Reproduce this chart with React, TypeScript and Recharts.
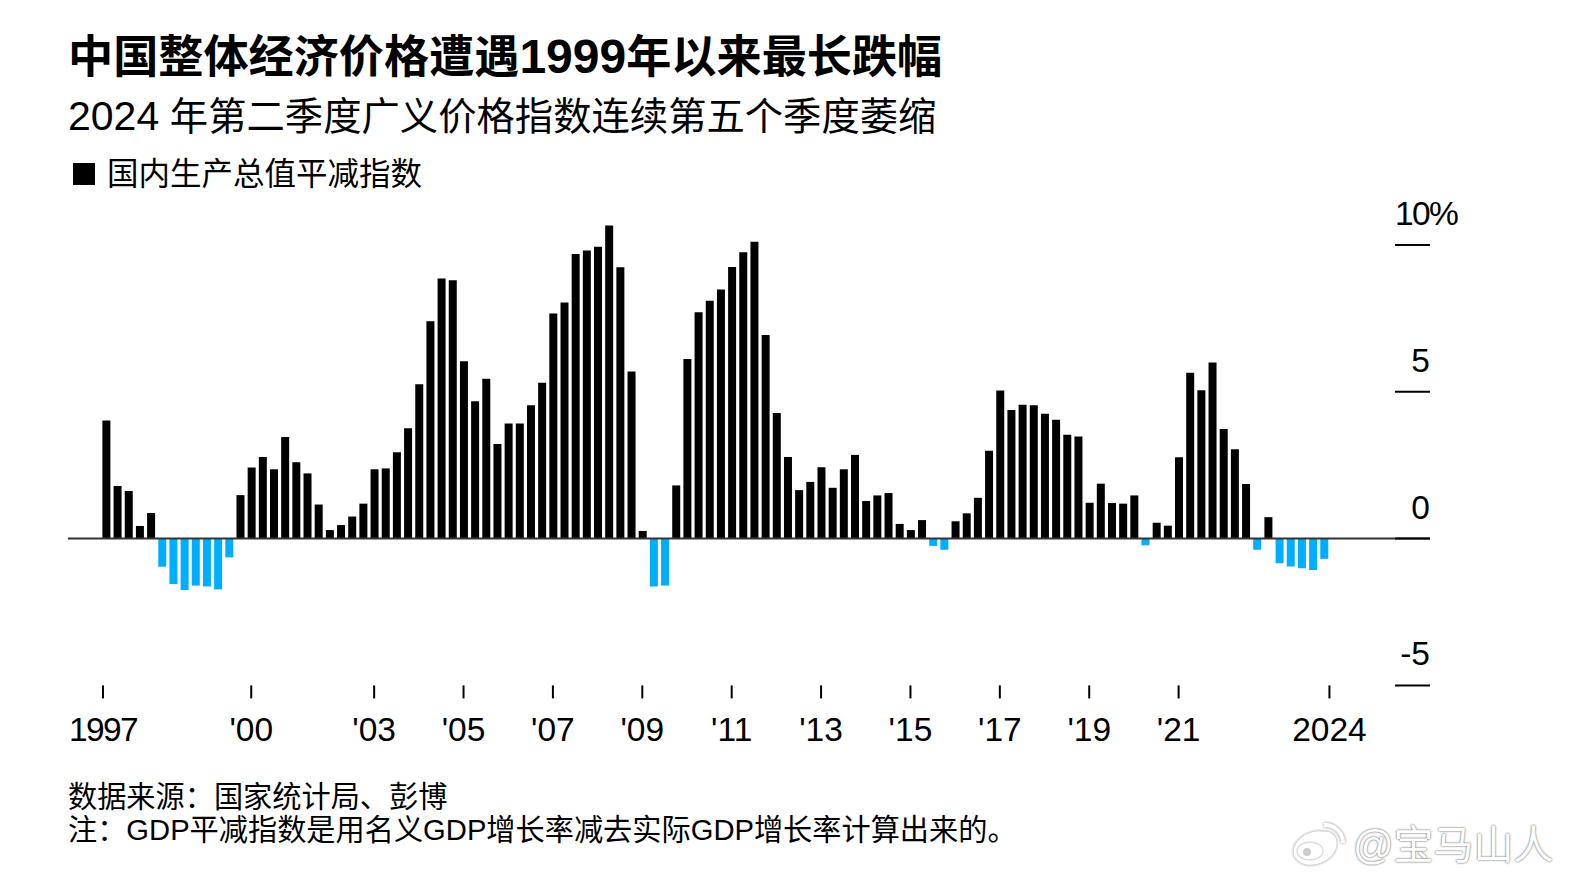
import { BarChart, Bar, Cell, XAxis, YAxis, ReferenceLine } from "recharts";

const TITLE = ["中国整体经济价格遭遇", "1999", "年以来最长跌幅"];
const SUBTITLE = ["", "2024", " 年第二季度广义价格指数连续第五个季度萎缩"];
const LEGEND = "国内生产总值平减指数";
const SOURCE = "数据来源\uff1a国家统计局、彭博";
const NOTE = "注\uff1aGDP平减指数是用名义GDP增长率减去实际GDP增长率计算出来的。";

// quarterly GDP deflator
const values = [
  4.02, 1.79, 1.62, 0.43, 0.87, -0.96, -1.55, -1.75, -1.6, -1.63, -1.73, -0.64, 1.48, 2.42, 2.78, 2.36,
  3.46, 2.6, 2.22, 1.16, 0.29, 0.46, 0.75, 1.19, 2.36, 2.39, 2.94, 3.76, 5.26, 7.4, 8.86, 8.8,
  6.04, 4.68, 5.44, 3.22, 3.92, 3.92, 4.54, 5.31, 7.67, 8.04, 9.69, 9.81, 9.94, 10.66, 9.24, 5.69,
  0.26, -1.63, -1.6, 1.81, 6.12, 7.71, 8.1, 8.48, 9.25, 9.75, 10.11, 6.93, 4.28, 2.78, 1.65, 1.93,
  2.43, 1.73, 2.36, 2.85, 1.28, 1.47, 1.55, 0.5, 0.29, 0.63, -0.25, -0.38, 0.59, 0.86, 1.39, 2.99,
  5.04, 4.38, 4.56, 4.54, 4.25, 4.05, 3.54, 3.48, 1.22, 1.87, 1.21, 1.19, 1.47, -0.23, 0.54, 0.44,
  2.77, 5.65, 5.05, 6.0, 3.73, 3.04, 1.86, -0.38, 0.73, -0.84, -0.95, -1.01, -1.07, -0.69,
];

const xTicks = [-0.27, 13, 24, 32, 40, 48, 56, 64, 72, 80, 88, 96, 109.5];
const xLabels = ["1997", "'00", "'03", "'05", "'07", "'09", "'11", "'13", "'15", "'17", "'19", "'21", "2024"];
const yTicks = [-5, 0, 5, 10];

const data = values.map((v, i) => ({ i, v }));

const LATIN = '"Liberation Sans", "Noto Sans CJK SC", sans-serif';
const BLUE = "#00adff";
const INK = "#000000";

function text(top: number, size: number, weight: number, content: string) {
  return (
    <div
      style={{
        position: "absolute",
        left: 68,
        top,
        fontSize: size,
        fontWeight: weight,
        lineHeight: 1,
        whiteSpace: "pre",
        color: INK,
      }}
    >
      {content}
    </div>
  );
}

// headline: digits are set a bit bigger than the CJK around them
function mixed(top: number, size: number, digits: number, weight: number, parts: string[]) {
  return (
    <div
      style={{
        position: "absolute",
        left: 68,
        top,
        height: size,
        fontSize: size,
        fontWeight: weight,
        lineHeight: `${size}px`,
        whiteSpace: "pre",
        color: INK,
      }}
    >
      {parts[0]}
      <span style={{ fontSize: digits, lineHeight: 0 }}>{parts[1]}</span>
      {parts[2]}
    </div>
  );
}

function YTick({ x, y, payload }: any) {
  const v = payload.value;
  return (
    <g>
      <line x1={x - 35} x2={x} y1={y} y2={y} stroke={INK} strokeWidth={2} />
      {v === 10 ? (
        <text x={x - 35} y={y - 20} fontSize={33.5} letterSpacing={-1.6} fill={INK} fontFamily={LATIN}>
          10%
        </text>
      ) : (
        <text x={x} y={y - 20} fontSize={33.5} fill={INK} textAnchor="end" fontFamily={LATIN}>
          {v}
        </text>
      )}
    </g>
  );
}

function XTick({ x, y, payload, index }: any) {
  const label = xLabels[index ?? xTicks.indexOf(payload.value)];
  return (
    <text
      x={x}
      y={y + 41}
      fontSize={33.5}
      letterSpacing={label === "1997" ? -1.6 : 0}
      fill={INK}
      textAnchor="middle"
      fontFamily={LATIN}
    >
      {label}
    </text>
  );
}

function Watermark() {
  return (
    <>
      <svg
        width={60}
        height={50}
        style={{ position: "absolute", left: 1290, top: 817, filter: "drop-shadow(0 0 1.5px #888)" }}
      >
        <ellipse cx={25} cy={31} rx={22} ry={16} transform="rotate(-20 25 31)" fill="#fff" />
        <ellipse cx={20} cy={34} rx={13} ry={9} fill="#fff" stroke="#ddd" strokeWidth={1.5} />
        <circle cx={17} cy={35} r={4} fill="#ccc" />
        <path d="M34 8 A18 18 0 0 1 53 26" fill="none" stroke="#fff" strokeWidth={4} />
        <path d="M34 16 A10 10 0 0 1 45 27" fill="none" stroke="#fff" strokeWidth={3} />
      </svg>
      <div
        style={{
          position: "absolute",
          left: 1353,
          top: 825,
          fontSize: 40,
          lineHeight: 1,
          whiteSpace: "nowrap",
          color: "#fff",
          textShadow: "0 0 2px #777, 0 0 2px #999",
        }}
      >
        @宝马山人
      </div>
    </>
  );
}

export default function App() {
  return (
    <div
      style={{
        position: "absolute",
        left: 0,
        top: 0,
        width: 1570,
        height: 883,
        background: "#fff",
        overflow: "hidden",
        fontFamily: LATIN,
      }}
    >
      {mixed(35, 45.15, 48, 700, TITLE)}
      {mixed(98, 38.35, 41, 400, SUBTITLE)}
      <div style={{ position: "absolute", left: 73, top: 163, width: 22, height: 22, background: INK }} />
      <div style={{ position: "absolute", left: 107, top: 159, fontSize: 31.5, lineHeight: 1, whiteSpace: "nowrap" }}>
        {LEGEND}
      </div>
      {text(783, 29.2, 400, SOURCE)}
      {text(816, 29.2, 400, NOTE)}

      <div style={{ position: "absolute", left: 0, top: 0 }}>
        <BarChart
          width={1570}
          height={883}
          data={data}
          margin={{ top: 215.6, right: 40, bottom: 137.6, left: 68 }}
          barSize={8}
        >
          <XAxis
            type="number"
            dataKey="i"
            domain={[-3.4, 118.5]}
            ticks={xTicks}
            interval={0}
            height={60}
            axisLine={false}
            tickSize={13}
            tickLine={{ stroke: INK, strokeWidth: 2 }}
            tick={<XTick />}
            allowDecimals
          />
          <YAxis
            orientation="right"
            type="number"
            domain={[-5, 11]}
            ticks={yTicks}
            interval={0}
            width={100}
            axisLine={false}
            tickLine={false}
            tickSize={0}
            tickMargin={0}
            tick={<YTick />}
          />
          <Bar dataKey="v" isAnimationActive={false}>
            {data.map((d) => (
              <Cell key={d.i} fill={d.v < 0 ? BLUE : INK} />
            ))}
          </Bar>
          <ReferenceLine y={0} stroke="#333333" strokeWidth={2} />
        </BarChart>
      </div>

      <Watermark />
    </div>
  );
}
